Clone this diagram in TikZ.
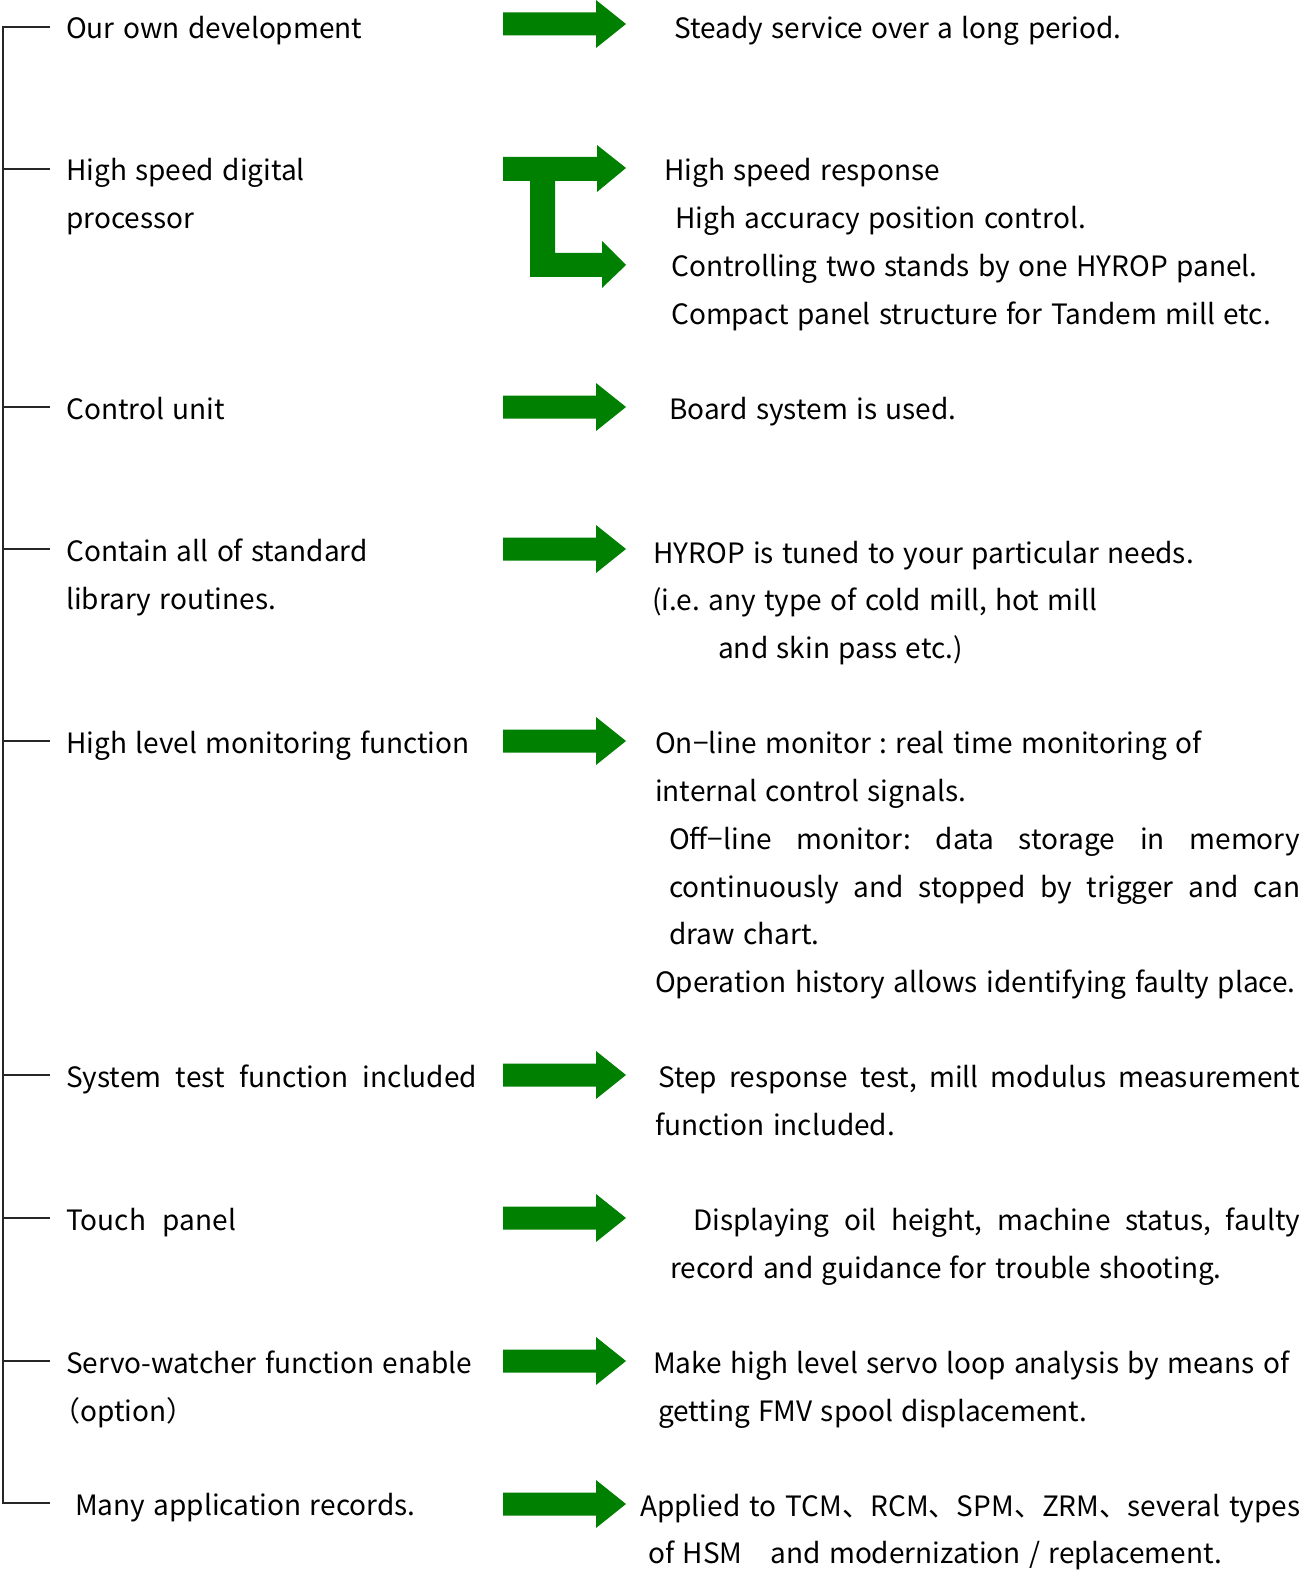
\documentclass[tikz,border=0pt]{standalone}
\usepackage{fontspec}
\setmainfont{Noto Sans CJK JP}
\definecolor{arrowgreen}{RGB}{0,128,0}
\frenchspacing
\newcommand{\txtfont}{\fontsize{28}{34}\selectfont\frenchspacing\spaceskip=0.3em plus 0.6em minus 0.08em\relax}
\begin{document}
\begin{tikzpicture}[x=1pt,y=-1pt,
  txt/.style={anchor=base west,inner sep=0pt,font=\txtfont},
  bracket/.style={line width=1.3pt,draw=black!85},
  bigarrow/.style={fill=arrowgreen}]
\useasboundingbox (0,0) rectangle (1314,1578);
% left bracket
\draw[bracket] (50,27) -- (3,27) -- (3,1503) -- (50,1503);
\foreach \yy in {169,407,549,741,1075,1218,1361}{\draw[bracket] (3,\yy) -- (50,\yy);}
% arrows
\foreach \yy in {24,407,549,741,1075,1218,1361,1504}{
  \fill[bigarrow] (503,\yy-11.5) -- (596,\yy-11.5) -- (596,\yy-24) -- (626,\yy) -- (596,\yy+24) -- (596,\yy+11.5) -- (503,\yy+11.5) -- cycle;}
% fork arrow
\fill[bigarrow] (503,157) -- (597,157) -- (597,145) -- (626,168) -- (597,192) -- (597,181) -- (555,181)
  -- (555,253) -- (602,253) -- (602,241) -- (626,265) -- (602,288) -- (602,277) -- (530,277) -- (530,181) -- (503,181) -- cycle;
% left texts
\node[txt] (l1) at (66,39) {Our own development};
\node[txt] (l2a) at (66,181) {High speed digital};
\node[txt] (l2b) at (66,229) {processor};
\node[txt] (l3) at (66,419) {Control unit};
\node[txt] (l4a) at (66,561) {Contain all of standard};
\node[txt] (l4b) at (66,609) {library routines.};
\node[txt] (l5) at (66,753) {High level monitoring function};
\node[txt] (l6) at (66,1087) {\makebox[411pt][s]{System test function included}};
\node[txt] (l7) at (66,1230) {Touch\ \ panel};
\node[txt] (l8a) at (66,1373) {Servo-watcher function enable};
\node[txt] (l8b) at (52,1421) {（option）};
\node[txt] (l9) at (75,1515) {Many application records.};
% right texts
\node[txt] (r1) at (674,39) {Steady service over a long period.};
\node[txt] (r2a) at (664,181) {High speed response};
\node[txt] (r2b) at (675,229) {High accuracy position control.};
\node[txt] (r2c) at (671,277) {Controlling two stands by one HYROP panel.};
\node[txt] (r2d) at (671,324) {Compact panel structure for Tandem mill etc.};
\node[txt] (r3) at (669,419) {Board system is used.};
\node[txt] (r4a) at (653,563) {HYROP is tuned to your particular needs.};
\node[txt] (r4b) at (652,610) {(i.e. any type of cold mill, hot mill};
\node[txt] (r4c) at (718,658) {and skin pass etc.)};
\node[txt] (r5a) at (655,753) {On−line monitor : real time monitoring of};
\node[txt] (r5b) at (655,801) {internal control signals.};
\node[txt] (r5c) at (669,849) {\makebox[631pt][s]{Off−line monitor: data storage in memory}};
\node[txt] (r5d) at (669,897) {\makebox[631pt][s]{continuously and stopped by trigger and can}};
\node[txt] (r5e) at (669,944) {draw chart.};
\node[txt] (r5f) at (655,992) {Operation history allows identifying faulty place.};
\node[txt] (r6a) at (658,1087) {\makebox[642pt][s]{Step response test, mill modulus measurement}};
\node[txt] (r6b) at (655,1135) {function included.};
\node[txt] (r7a) at (693,1230) {\makebox[607pt][s]{Displaying oil height, machine status, faulty}};
\node[txt] (r7b) at (670,1278) {record and guidance for trouble shooting.};
\node[txt] (r8a) at (653,1373) {Make high level servo loop analysis by means of};
\node[txt] (r8b) at (658,1421) {getting FMV spool displacement.};
\node[txt] (r9a) at (640,1516) {\makebox[660pt][s]{Applied to TCM、RCM、SPM、ZRM、several types}};
\node[txt] (r9b) at (648,1563) {of HSM　and modernization / replacement.};
\end{tikzpicture}
\end{document}
